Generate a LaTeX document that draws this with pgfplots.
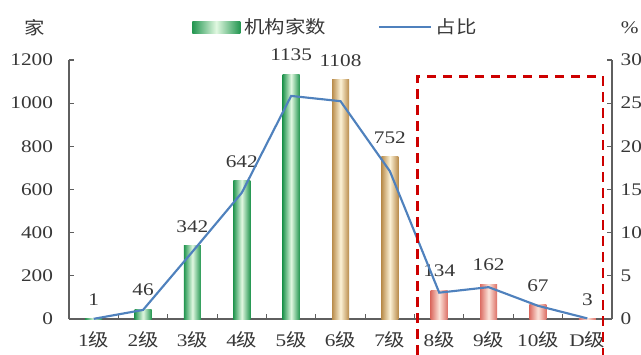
\documentclass[border=0pt]{standalone}
\usepackage{fontspec}
\setmainfont{Liberation Serif}[FakeStretch=1.2]
\newfontfamily\cjk{Noto Sans CJK SC}[FakeStretch=1.15]
\usepackage{pgfplots}
\pgfplotsset{compat=1.18}
\definecolor{gdark}{RGB}{35,150,80}
\definecolor{glight}{RGB}{225,248,225}
\definecolor{tdark}{RGB}{185,140,75}
\definecolor{tlight}{RGB}{252,242,215}
\definecolor{rdark}{RGB}{220,110,100}
\definecolor{rlight}{RGB}{252,228,218}
\definecolor{lblue}{RGB}{79,129,189}
\definecolor{axgray}{RGB}{95,95,95}
\definecolor{txt}{RGB}{55,55,55}
\definecolor{dred}{RGB}{205,0,0}
\newcommand\f{\fontsize{13.3}{16}\selectfont}
\newcommand\ji{{\cjk 级}}
\pgfplotsset{
  common/.style={
    scale only axis, width=407.25pt, height=194.25pt,
    xmin=-0.5, xmax=10.5, clip=false,
    axis line style={-, axgray, line width=0.9pt},
    tick style={axgray, line width=0.8pt},
    tick align=inside, major tick length=4pt, minor tick length=3.5pt,
    /pgf/number format/1000 sep={},
    /pgf/number format/assume math mode=true,
    tick label style={font=\f, text=txt},
  },
  barsty/.style={ybar, bar width=12.75pt, bar shift=0pt, draw=none,
    left color=#1dark, right color=#1dark, middle color=#1light,
    nodes near coords,
    every node near coord/.append style={font=\f, text=txt, inner sep=0pt, yshift=9.5pt, fill=none, shade=none}},
}
\begin{document}
\begin{tikzpicture}
\begin{axis}[common,
  ymin=0, ymax=1200,
  axis y line*=left, axis x line*=bottom,
  ytick={0,200,...,1200},
  yticklabel style={xshift=-8.5pt},
  xtick={0,...,10},
  xticklabels={1\ji,2\ji,3\ji,4\ji,5\ji,6\ji,7\ji,8\ji,9\ji,10\ji,D\ji},
  xticklabel style={yshift=-6pt},
  major x tick style={draw=none},
  minor xtick={0.5,1.5,...,9.5},
  legend style={draw=none, fill=none, at={(0.2265,1.127)}, anchor=west,
    legend columns=2, inner sep=0pt, font=\cjk\fontsize{13.3}{16}\selectfont, text=txt,
    /tikz/every even column/.append style={column sep=36pt},
    nodes={inner sep=3pt}},
  legend cell align=left,
]
\addplot[barsty=g, legend image code/.code={\shade[left color=gdark, right color=gdark, middle color=glight] (0pt,-4.5pt) rectangle (36pt,4.5pt);}]
  coordinates {(0,1)};
\addlegendentry{机构家数}
\addplot[barsty=g, forget plot] coordinates {(1,46)};
\addplot[barsty=g, forget plot] coordinates {(2,342)};
\addplot[barsty=g, forget plot] coordinates {(3,642)};
\addplot[barsty=g, forget plot] coordinates {(4,1135)};
\addplot[barsty=t, forget plot] coordinates {(5,1108)};
\addplot[barsty=t, forget plot] coordinates {(6,752)};
\addplot[barsty=r, forget plot] coordinates {(7,134)};
\addplot[barsty=r, forget plot] coordinates {(8,162)};
\addplot[barsty=r, forget plot] coordinates {(9,67)};
\addplot[barsty=r, forget plot] coordinates {(10,3)};
\addlegendimage{legend image code/.code={\draw[lblue, line width=1.6pt] (0pt,0pt) -- (39pt,0pt);}}
\addlegendentry{占比}
\node[font=\cjk\fontsize{13.3}{16}\selectfont, text=txt, xshift=-25.5pt, yshift=24pt] at (rel axis cs:0,1) {家};
\coordinate (ll) at (rel axis cs:0,0);
\coordinate (ur) at (rel axis cs:1,1);
\end{axis}
\begin{axis}[common,
  ymin=0, ymax=30,
  axis x line=none, axis y line*=right,
  ytick={0,5,...,30},
  yticklabel style={anchor=west, xshift=3pt},
]
\addplot[lblue, line width=1.6pt] coordinates {(0,0.02) (1,1.05) (2,7.79) (3,14.62) (4,25.84) (5,25.23) (6,17.12) (7,3.05) (8,3.69) (9,1.53) (10,0.07)};
\draw[dred, line width=1.9pt, dash pattern=on 7pt off 5pt] (axis cs:6.56,-6) rectangle (axis cs:10.32,28.1);
\node[font=\f, text=txt, anchor=west, inner sep=0pt, xshift=6.5pt, yshift=24pt] at (rel axis cs:1,1) {\%};
\end{axis}
\pgfresetboundingbox
\path[use as bounding box] ([shift={(-51.75pt,-26.25pt)}]ll) rectangle ([shift={(21.75pt,45pt)}]ur);
\end{tikzpicture}
\end{document}
